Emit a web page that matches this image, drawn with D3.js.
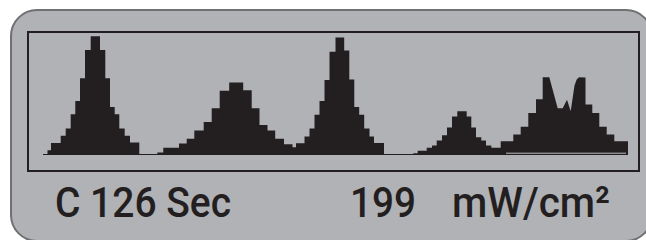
<!DOCTYPE html>
<meta charset="utf-8">
<head>
  <title>Spectrum display</title>
  <style>
    body { margin: 0; background: #fff; }
    svg { display: block; }
  </style>
</head>
<body>
<script src="https://d3js.org/d3.v7.min.js"></script>
<script>
var WIDTH = 646,
    HEIGHT = 240;

// histogram steps: [channel where the step starts, level]; last entry closes the run
var peaksA = [
  [7.5, 4], [11, 10], [20.7, 16], [25.7, 22], [30.7, 34], [35.3, 45], [40, 64],
  [45, 87.5], [50.7, 99], [60, 87.5], [65.3, 64], [70, 40], [74.7, 34],
  [79.3, 22], [84.7, 16], [90, 10.5], [99.3, 10.5]
];

var peaksB = [
  [117.3, 2], [123.3, 6], [139, 9.5], [146.7, 13.5], [154.3, 20.5], [163.7, 27.5],
  [171.7, 39], [179.7, 53.5], [189.2, 60.5], [203.2, 54], [211.7, 39], [219.5, 25],
  [227.5, 20.5], [235.2, 13.5], [244, 9], [252.5, 6.5], [256, 9.75], [264.5, 15.5],
  [269.5, 22], [274.5, 33.5], [279.5, 45], [284.5, 62.5], [289.5, 86], [295.5, 98],
  [304.2, 87], [309.3, 63], [314.3, 40], [319.2, 33.5], [324.2, 22], [329.5, 15.5],
  [334, 10], [344, 10]
];

var peaksC = [
  [373.3, 1.5], [377.7, 3.5], [386.7, 6], [392, 8], [396.7, 12], [402, 16.5],
  [407, 23], [412, 32], [417.3, 36.5], [426.7, 32], [431.3, 23], [436, 14.75],
  [441.3, 12], [446, 8], [451.3, 6], [460.7, 11.5], [473.3, 17], [480.7, 23.5],
  [488.3, 35], [496, 46.5], [502.7, 64.75], [509.3, 64.75]
];

// the doubled top of the last peak is a plain line, not steps
var ridge = [
  [509.3, 64.75], [517.7, 39], [522.7, 39], [527, 46], [530.7, 36.5],
  [534.5, 58], [536.7, 63], [539, 64.75]
];

var peaksD = [
  [539, 64.5], [545.5, 42], [552.3, 35], [559.3, 23.5], [566.7, 17],
  [574.3, 11.5], [588, 11.5]
];

var baseline = [3, 586];
var seam = [466, 586];

var timeLabel = "C 126 Sec";
var powerValue = "199";
var powerUnit = "mW/cm²";

var INK = "#231f20",
    PANEL = "#b1b2b6",
    RIM = "#6f7072";

function stepsToPoints(run) {
  var pts = [];
  run.forEach(function(d, i) {
    if (i > 0) pts.push([d[0], run[i - 1][1]]);
    pts.push(d);
  });
  return pts;
}

var svg = d3.select("body").append("svg")
    .attr("width", WIDTH)
    .attr("height", HEIGHT);

svg.append("rect")
    .attr("x", 11)
    .attr("y", 10)
    .attr("width", 641)
    .attr("height", 231)
    .attr("rx", 26)
    .attr("fill", PANEL)
    .attr("stroke", RIM)
    .attr("stroke-width", 2);

svg.append("rect")
    .attr("x", 28)
    .attr("y", 32)
    .attr("width", 611)
    .attr("height", 139)
    .attr("fill", "none")
    .attr("stroke", INK)
    .attr("stroke-width", 2);

var x = d3.scaleLinear().domain([0, 600]).range([40, 640]);
var y = d3.scaleLinear().domain([0, 100]).range([155, 35]);

var area = d3.area()
    .x(function(d) { return x(d[0]); })
    .y0(y(0))
    .y1(function(d) { return y(d[1]); });

var g = svg.append("g");

g.append("line")
    .attr("x1", x(baseline[0]))
    .attr("x2", x(baseline[1]))
    .attr("y1", y(0) - 0.5)
    .attr("y2", y(0) - 0.5)
    .attr("stroke", INK)
    .attr("stroke-width", 1.2);

var lastPeak = stepsToPoints(peaksC)
    .concat(ridge.slice(1))
    .concat(stepsToPoints(peaksD).slice(1));

[stepsToPoints(peaksA), stepsToPoints(peaksB), lastPeak].forEach(function(pts) {
  g.append("path")
      .attr("d", area(pts))
      .attr("fill", INK);
});

// thin light gap above the base of the last peak
g.append("line")
    .attr("x1", x(seam[0]))
    .attr("x2", x(seam[1]))
    .attr("y1", y(0) - 1.8)
    .attr("y2", y(0) - 1.8)
    .attr("stroke", "#bdbdc0")
    .attr("stroke-width", 1);

var font = "Roboto, 'Liberation Sans', sans-serif";

function label(txt, px, len) {
  return svg.append("text")
      .attr("x", px)
      .attr("y", 217)
      .attr("font-family", font)
      .attr("font-weight", 500)
      .attr("font-size", 43)
      .attr("fill", INK)
      .attr("textLength", len)
      .attr("lengthAdjust", "spacingAndGlyphs")
      .text(txt);
}

label(timeLabel, 55, 176);
label(powerValue, 350, 66);
label(powerUnit, 452, 158);
</script>
</body>
